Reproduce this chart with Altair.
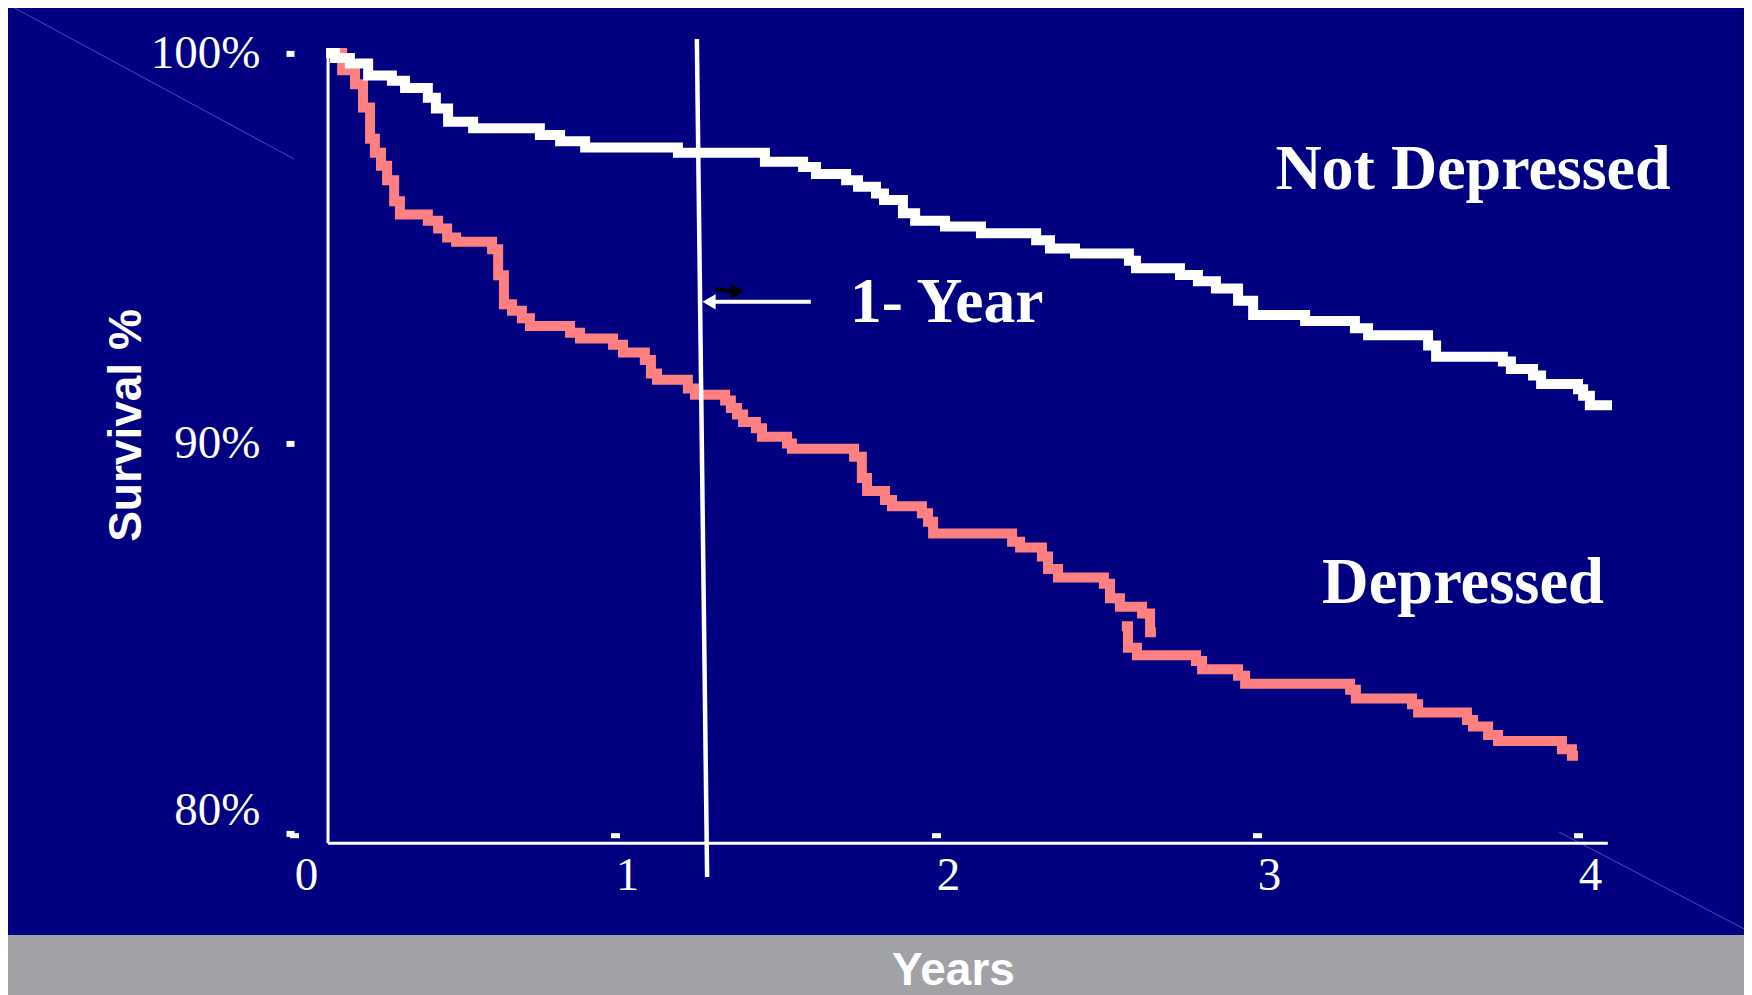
import altair as alt
import pandas as pd

# ---------------- data ----------------
NOT_DEP_YEARS = [0.10, 0.128, 0.174, 0.231, 0.305, 0.346, 0.417, 0.442, 0.480, 0.558, 0.766, 0.829,
                 0.907, 1.196, 1.467, 1.586, 1.626, 1.720, 1.757, 1.813, 1.838, 1.897, 1.935, 2.028,
                 2.140, 2.312, 2.355, 2.433, 2.601, 2.623, 2.760, 2.816, 2.872, 2.941, 2.988, 3.150,
                 3.305, 3.346, 3.533, 3.558, 3.766, 3.791, 3.860, 3.885, 4.000, 4.016, 4.037, 4.106]
NOT_DEP_SURV = [100.0, 99.87, 99.73, 99.42, 99.29, 99.1, 98.85, 98.58, 98.24, 98.07, 97.9, 97.74,
                97.58, 97.44, 97.21, 97.08, 96.9, 96.74, 96.57, 96.4, 96.23, 95.89, 95.7, 95.55,
                95.38, 95.2, 94.99, 94.86, 94.67, 94.48, 94.31, 94.15, 93.96, 93.65, 93.28, 93.13,
                92.94, 92.76, 92.5, 92.21, 92.09, 91.9, 91.73, 91.51, 91.38, 91.21, 90.97, 90.97]

DEP_A_YEARS = [0.100, 0.150, 0.190, 0.215, 0.237, 0.252, 0.271, 0.290, 0.312, 0.330, 0.417, 0.449,
               0.477, 0.505, 0.617, 0.636, 0.654, 0.679, 0.710, 0.735, 0.860, 0.891, 0.994, 1.025,
               1.093, 1.112, 1.131, 1.227, 1.249, 1.343, 1.361, 1.380, 1.399, 1.439, 1.458, 1.536,
               1.551, 1.745, 1.769, 1.785, 1.841, 1.863, 1.956, 1.975, 1.991, 2.237, 2.262, 2.330,
               2.349, 2.380, 2.523, 2.542, 2.573, 2.642, 2.667, 2.685]
DEP_A_SURV = [100.0, 99.56, 99.2, 98.6, 97.8, 97.44, 97.11, 96.74, 96.2, 95.86, 95.7, 95.5,
              95.27, 95.16, 94.97, 94.3, 93.56, 93.39, 93.2, 93.0, 92.83, 92.68, 92.52, 92.32,
              92.13, 91.78, 91.62, 91.4, 91.24, 91.09, 90.9, 90.73, 90.54, 90.38, 90.16, 89.99,
              89.85, 89.65, 89.1, 88.77, 88.54, 88.38, 88.2, 87.98, 87.68, 87.47, 87.32, 87.09,
              86.77, 86.55, 86.39, 86.02, 85.8, 85.63, 85.15, 85.15]

DEP_B_YEARS = [2.579, 2.598, 2.626, 2.810, 2.829, 2.941, 2.963, 3.290, 3.308, 3.483, 3.502, 3.654,
               3.673, 3.720, 3.751, 3.950, 3.981, 4.000]
DEP_B_SURV = [85.3, 84.75, 84.56, 84.41, 84.2, 84.03, 83.83, 83.67, 83.45, 83.3, 83.09, 82.9,
              82.73, 82.51, 82.36, 82.15, 81.98, 81.98]

X_TICKS = [0, 1, 2, 3, 4]
Y_TICKS = [80, 90, 100]

# axis frame and the 1-year marker (in data units)
FRAME_X0, FRAME_X1 = 0.106, 4.093
FRAME_Y0, FRAME_Y1 = 79.74, 100.05
YEAR_LINE = {"x": 1.255, "x2": 1.287, "y": 100.36, "y2": 78.87}

# ---------------- styling ----------------
NAVY = "#000080"
GREY = "#A1A2A6"
SALMON = "#FF8080"
WHITE = "#FFFFFF"
SERIF = "Liberation Serif"
SANS = "Liberation Sans"

PLOT_W, PLOT_H = 1316.1, 807.3
PAD = {"left": 286, "top": 29.4, "right": 133.9, "bottom": 150.3}

xs = alt.Scale(domain=[0, 4.1], nice=False, zero=False)
ys = alt.Scale(domain=[79.7, 100.4], nice=False, zero=False)

XAX = alt.Axis(values=X_TICKS, title="Years", grid=False, domain=False, offset=-12,
               tickSize=5, tickWidth=9, tickColor=WHITE, labelColor=WHITE, labelFont=SERIF,
               labelFontSize=47, labelOffset=12, labelPadding=52, labelBaseline="alphabetic",
               labelFlush=False, format="d", titleFont=SANS, titleFontWeight="bold",
               titleFontSize=46, titleColor=WHITE, titleX=659, titleY=152,
               titleAlign="center", titleBaseline="alphabetic", zindex=1)
YAX = alt.Axis(values=Y_TICKS, title="Survival %", grid=False, domain=False,
               tickSize=8, tickWidth=6, tickColor=WHITE, labelColor=WHITE, labelFont=SERIF,
               labelFontSize=47, labelPadding=26, labelBaseline="middle",
               labelOffset={"condition": {"test": "datum.value == 80", "value": -23}, "value": 0},
               labelExpr="datum.value + '%'", titleFont=SANS, titleFontWeight="bold",
               titleFontSize=46, titleColor=WHITE, titleAngle=270, titleX=-168, titleY=387.6,
               titleAlign="center", titleBaseline="middle", zindex=1)

rows = []
for name, seg, xsv, ysv in [("Depressed", "A", DEP_A_YEARS, DEP_A_SURV),
                            ("Depressed", "B", DEP_B_YEARS, DEP_B_SURV),
                            ("Not Depressed", "C", NOT_DEP_YEARS, NOT_DEP_SURV)]:
    for i, (a, b) in enumerate(zip(xsv, ysv)):
        rows.append({"group": name, "seg": seg, "i": i, "year": a, "surv": b})
curves = pd.DataFrame(rows)

one = pd.DataFrame({"k": [0]})

# grey bottom strip
strip = alt.Chart(one).mark_rect(color=GREY).encode(
    x=alt.value(-286), x2=alt.value(1452), y=alt.value(897.6), y2=alt.value(965))

# faint diagonal lines
diag = alt.Chart(pd.DataFrame({"a": [-283, 1265], "b": [-31.4, 794.6],
                               "c": [0, 1458], "d": [121.6, 895.6]})).mark_rule(
    color="#4A4AB4", strokeWidth=1).encode(
    x=alt.X("a:Q", scale=None), y=alt.Y("b:Q", scale=None),
    x2="c:Q", y2="d:Q")

frame = pd.DataFrame({"x": [FRAME_X0, FRAME_X0], "x2": [FRAME_X0, FRAME_X1],
                      "y": [FRAME_Y1, FRAME_Y0], "y2": [FRAME_Y0, FRAME_Y0]})
frame_layer = alt.Chart(frame).mark_rule(color=WHITE, strokeWidth=3).encode(
    x=alt.X("x:Q", scale=xs, axis=XAX), x2="x2:Q",
    y=alt.Y("y:Q", scale=ys, axis=YAX), y2="y2:Q")

lines = alt.Chart(curves).mark_line(interpolate="step-after", strokeWidth=10,
                                    strokeCap="butt", strokeJoin="miter").encode(
    x=alt.X("year:Q", scale=xs, axis=XAX),
    y=alt.Y("surv:Q", scale=ys, axis=YAX),
    color=alt.Color("group:N", scale=alt.Scale(domain=["Depressed", "Not Depressed"],
                                               range=[SALMON, WHITE]), legend=None),
    detail="seg:N",
    order="i:Q")

year_line = alt.Chart(pd.DataFrame([YEAR_LINE])).mark_rule(color=WHITE, strokeWidth=4.5).encode(
    x=alt.X("x:Q", scale=xs, axis=XAX), x2="x2:Q",
    y=alt.Y("y:Q", scale=ys, axis=YAX), y2="y2:Q")

arrows = pd.DataFrame({"x": [1.302, 1.312], "x2": [1.61, 1.368],
                       "y": [93.62, 93.95], "y2": [93.62, 93.88],
                       "c": ["w", "k"]})
arrow_shafts = alt.Chart(arrows).mark_rule(strokeWidth=4).encode(
    x=alt.X("x:Q", scale=xs, axis=XAX), x2="x2:Q",
    y=alt.Y("y:Q", scale=ys, axis=YAX), y2="y2:Q",
    color=alt.Color("c:N", scale=alt.Scale(domain=["w", "k"], range=[WHITE, "black"]), legend=None))

heads = pd.DataFrame({"x": [1.293, 1.382], "y": [93.62, 93.89],
                      "s": ["triangle-left", "triangle-right"], "c": ["w", "k"]})
arrow_heads = alt.Chart(heads).mark_point(filled=True, size=230, opacity=1, strokeWidth=0).encode(
    x=alt.X("x:Q", scale=xs, axis=XAX),
    y=alt.Y("y:Q", scale=ys, axis=YAX),
    shape=alt.Shape("s:N", scale=alt.Scale(domain=["triangle-left", "triangle-right"],
                                           range=["triangle-left", "triangle-right"]), legend=None),
    color=alt.Color("c:N", scale=alt.Scale(domain=["w", "k"], range=[WHITE, "black"]), legend=None))

def label(text, px, py, size, align):
    return alt.Chart(one).mark_text(text=text, font=SERIF, fontWeight="bold", fontSize=size,
                                    color=WHITE, align=align, baseline="alphabetic").encode(
        x=alt.value(px), y=alt.value(py))

texts = (label("Not Depressed", 1179, 151.6, 64, "center")
         + label("Depressed", 1169, 565.6, 64.5, "center")
         + label("1- Year", 556, 284.6, 63.5, "left"))

chart = alt.layer(strip, diag, frame_layer, lines, year_line, arrow_shafts, arrow_heads, texts).properties(
    width=PLOT_W, height=PLOT_H, padding=PAD, autosize=alt.AutoSizeParams(type="none"),
    background=NAVY
).configure_view(stroke=None).resolve_scale(color="independent")

chart.save("out.html", embed_options={"renderer": "svg", "actions": False})
